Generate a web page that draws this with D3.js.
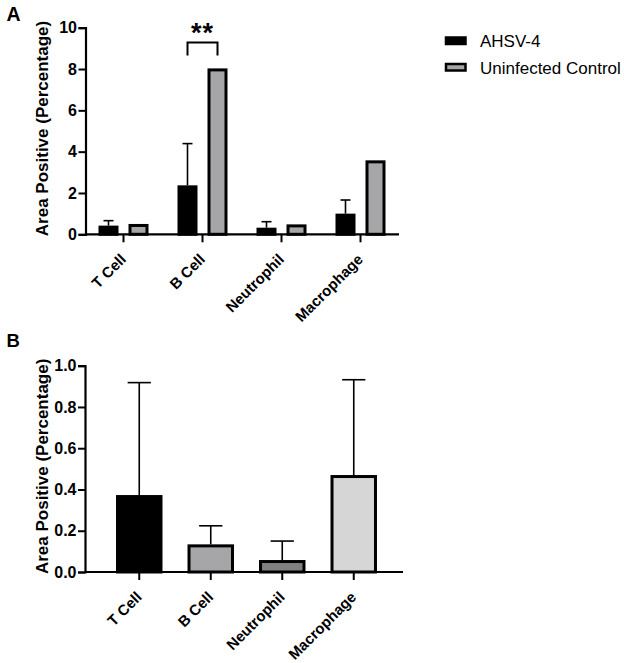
<!DOCTYPE html>
<html>
<head>
<meta charset="utf-8">
<script src="https://cdn.jsdelivr.net/npm/d3@7"></script>
<style>
  html, body { margin: 0; padding: 0; background: #fff; }
  svg { display: block; font-family: "Liberation Sans", Arial, sans-serif; }
</style>
</head>
<body>
<svg id="chart" width="624" height="663"></svg>
<script>
// ---------- data ----------
const categories = ["T Cell", "B Cell", "Neutrophil", "Macrophage"];
const seriesNames = ["AHSV-4", "Uninfected Control"];
// Panel A
const ahsvMean = [0.42, 2.37, 0.32, 1.0];
const ahsvErr  = [0.66, 4.39, 0.61, 1.66];   // top of error bar
const controlMean = [0.50, 8.03, 0.48, 3.58];
const yTicksA = [0, 2, 4, 6, 8, 10];
// significance bracket (panel A)
const sigGroup = "B Cell";
const sigLevel = 9.28;
const sigLegBottom = 8.65;
const sigLabel = "**";
// Panel B
const bMean = [0.373, 0.134, 0.058, 0.470];
const bErr  = [0.918, 0.224, 0.150, 0.932];
const yTicksB = [0.0, 0.2, 0.4, 0.6, 0.8, 1.0];
const colorsB = ["#000000", "#a6a6a9", "#808080", "#d6d6d6"];
const colorsA = ["#000000", "#a6a6a9"];

const svg = d3.select("#chart");
const titleText = "Area Positive (Percentage)";
const FONT = "Liberation Sans, Arial, sans-serif";

// ---------- Panel A ----------
const A = { left: 85.5, right: 399, top: 27.7, bottom: 234.3 };
const xA = d3.scaleBand().domain(categories).range([84, 400]).paddingInner(0).paddingOuter(0);
const yA = d3.scaleLinear().domain([0, 10]).range([A.bottom, A.top]);
const subA = d3.scaleBand().domain(seriesNames).range([-25, 25]).paddingInner(1/3).paddingOuter(0);

const gA = svg.append("g");
const rowsA = categories.map((c, i) => ({ c, vals: [
  { s: seriesNames[0], v: ahsvMean[i], e: ahsvErr[i] },
  { s: seriesNames[1], v: controlMean[i], e: null }
]}));

// error bars (behind bars)
rowsA.forEach(r => {
  r.vals.forEach(d => {
    if (d.e == null) return;
    const cx = xA(r.c) + xA.bandwidth() / 2 + subA(d.s) + subA.bandwidth() / 2;
    gA.append("line").attr("x1", cx).attr("x2", cx)
      .attr("y1", yA(d.v)).attr("y2", yA(d.e))
      .attr("stroke", "#000").attr("stroke-width", 1.6);
    gA.append("line").attr("x1", cx - 5).attr("x2", cx + 5)
      .attr("y1", yA(d.e)).attr("y2", yA(d.e))
      .attr("stroke", "#000").attr("stroke-width", 1.6);
  });
});
// bars
rowsA.forEach(r => {
  gA.selectAll(null).data(r.vals).enter().append("rect")
    .attr("x", d => xA(r.c) + xA.bandwidth() / 2 + subA(d.s) + 1.5)
    .attr("width", subA.bandwidth() - 3)
    .attr("y", d => yA(d.v) + 1.5)
    .attr("height", d => Math.max(0, yA(0) - yA(d.v) - 1.5))
    .attr("fill", (d, i) => colorsA[i])
    .attr("stroke", "#000").attr("stroke-width", 3);
});

// axes A
const yAxisA = d3.axisLeft(yA).tickValues(yTicksA).tickSize(7).tickPadding(1.5).tickFormat(d3.format("d"));
const gyA = gA.append("g").attr("transform", `translate(${A.left},0)`).call(yAxisA);
const xAxisA = d3.axisBottom(xA).tickSize(8).tickSizeOuter(0);
const gxA = gA.append("g").attr("transform", `translate(0,${A.bottom})`).call(xAxisA);
gA.append("line").attr("x1", A.left).attr("x2", A.right).attr("y1", A.bottom).attr("y2", A.bottom)
  .attr("stroke", "#000").attr("stroke-width", 2.2);

// significance bracket
{
  const g = sigGroup;
  const x1 = xA(g) + xA.bandwidth() / 2 + subA(seriesNames[0]) + subA.bandwidth() / 2;
  const x2 = xA(g) + xA.bandwidth() / 2 + subA(seriesNames[1]) + subA.bandwidth() / 2;
  gA.append("path")
    .attr("d", `M${x1},${yA(sigLegBottom)}V${yA(sigLevel)}H${x2}V${yA(sigLegBottom)}`)
    .attr("fill", "none").attr("stroke", "#000").attr("stroke-width", 2);
  gA.append("text").attr("x", (x1 + x2) / 2).attr("y", yA(sigLevel) - 1)
    .attr("text-anchor", "middle").attr("font-size", 27).attr("font-weight", "bold")
    .attr("letter-spacing", 1)
    .text(sigLabel);
}

// ---------- Panel B ----------
const B = { left: 85, right: 403, top: 365.7, bottom: 572 };
const xB = d3.scaleBand().domain(categories).range([103.5, 389.5]).paddingInner(0.35).paddingOuter(0.175);
const yB = d3.scaleLinear().domain([0, 1]).range([B.bottom, B.top]);
const gB = svg.append("g");
const rowsB = categories.map((c, i) => ({ c, v: bMean[i], e: bErr[i], col: colorsB[i] }));

gB.selectAll(".eb").data(rowsB).enter().append("line")
  .attr("x1", d => xB(d.c) + xB.bandwidth() / 2).attr("x2", d => xB(d.c) + xB.bandwidth() / 2)
  .attr("y1", d => yB(d.v)).attr("y2", d => yB(d.e))
  .attr("stroke", "#000").attr("stroke-width", 1.6);
gB.selectAll(".cap").data(rowsB).enter().append("line")
  .attr("x1", d => xB(d.c) + xB.bandwidth() / 4).attr("x2", d => xB(d.c) + xB.bandwidth() * 3 / 4)
  .attr("y1", d => yB(d.e)).attr("y2", d => yB(d.e))
  .attr("stroke", "#000").attr("stroke-width", 1.6);
gB.selectAll(".bar").data(rowsB).enter().append("rect")
  .attr("x", d => xB(d.c) + 1.5)
  .attr("width", xB.bandwidth() - 3)
  .attr("y", d => yB(d.v) + 1.5)
  .attr("height", d => Math.max(0, yB(0) - yB(d.v) - 1.5))
  .attr("fill", d => d.col)
  .attr("stroke", "#000").attr("stroke-width", 3);

const yAxisB = d3.axisLeft(yB).tickValues(yTicksB).tickSize(7).tickPadding(1.5).tickFormat(d3.format(".1f"));
const gyB = gB.append("g").attr("transform", `translate(${B.left},0)`).call(yAxisB);
const xAxisB = d3.axisBottom(xB).tickSize(8).tickSizeOuter(0);
const gxB = gB.append("g").attr("transform", `translate(0,${B.bottom})`).call(xAxisB);
gB.append("line").attr("x1", B.left).attr("x2", B.right).attr("y1", B.bottom).attr("y2", B.bottom)
  .attr("stroke", "#000").attr("stroke-width", 2.2);

// ---------- axis styling ----------
[gyA, gyB].forEach(g => {
  g.attr("font-family", FONT).attr("font-size", 16);
  g.select(".domain").attr("stroke", "#000").attr("stroke-width", 2.2);
  g.selectAll(".tick line").attr("stroke", "#000").attr("stroke-width", 2);
  g.selectAll(".tick text").attr("font-size", 16).attr("font-weight", "bold").attr("fill", "#000");
});
[gxA, gxB].forEach(g => {
  g.attr("font-family", FONT).attr("font-size", 15);
  g.select(".domain").remove();
  g.selectAll(".tick line").attr("stroke", "#000").attr("stroke-width", 2);
  g.selectAll(".tick text").attr("font-size", 15).attr("font-weight", "bold").attr("fill", "#000")
    .attr("text-anchor", "end")
    .attr("x", 0).attr("y", 0).attr("dy", 0)
    .attr("transform", "translate(3.5,26) rotate(-45)");
});

// axis titles
[[A, gA], [B, gB]].forEach(([P, g]) => {
  g.append("text")
    .attr("transform", `translate(47.5,${(P.top + P.bottom) / 2 - 2.5}) rotate(-90)`)
    .attr("text-anchor", "middle").attr("font-size", 17).attr("font-weight", "bold")
    .text(titleText);
});

// panel letters
svg.append("text").attr("x", 6.5).attr("y", 21).attr("font-size", 19.5).attr("font-weight", "bold").text("A");
svg.append("text").attr("x", 6.5).attr("y", 347).attr("font-size", 18.5).attr("font-weight", "bold").text("B");

// legend
const leg = svg.append("g");
seriesNames.forEach((s, i) => {
  const y0 = 37.5 + i * 26.5;
  leg.append("rect").attr("x", 446).attr("y", y0).attr("width", 19.5).attr("height", 6.5)
    .attr("fill", colorsA[i]).attr("stroke", "#000").attr("stroke-width", 2.5);
  leg.append("text").attr("x", 480).attr("y", y0 + 9.5).attr("font-size", 17).text(s);
});
</script>
</body>
</html>
